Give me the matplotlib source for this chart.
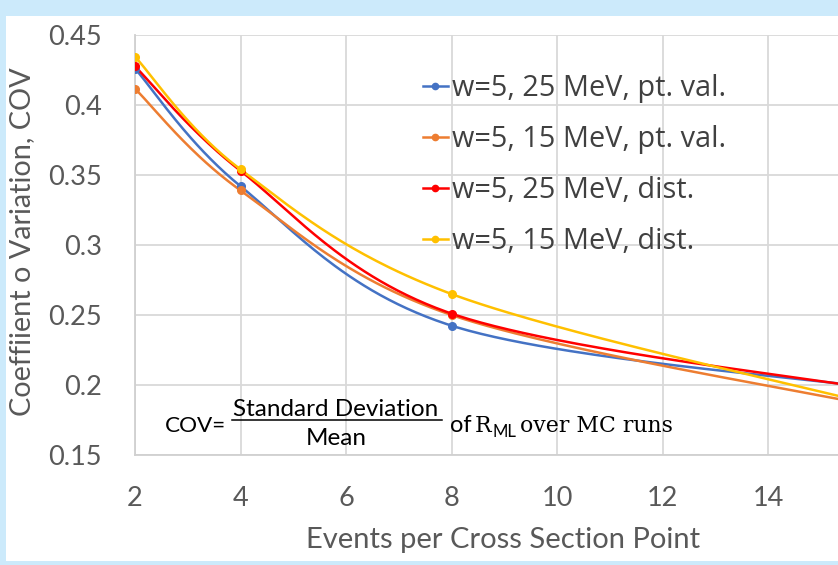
import numpy as np
import matplotlib
matplotlib.use("Agg")
import matplotlib.pyplot as plt
from matplotlib.patches import Rectangle
from matplotlib.lines import Line2D

# ---- data ----
events = [2, 4, 8, 16]
series_names = ["w=5, 25 MeV, pt. val.", "w=5, 15 MeV, pt. val.",
                "w=5, 25 MeV, dist.", "w=5, 15 MeV, dist."]
cov_25_pt = [0.426, 0.342, 0.2424, 0.198]
cov_15_pt = [0.4116, 0.339, 0.250, 0.185]
cov_25_dist = [0.4276, 0.353, 0.251, 0.197]
cov_15_dist = [0.4345, 0.354, 0.265, 0.186]
series_values = [cov_25_pt, cov_15_pt, cov_25_dist, cov_15_dist]
colors = ["#4472C4", "#ED7D31", "#FF0000", "#FFC000"]

x_ticks = [2, 4, 6, 8, 10, 12, 14]
y_ticks = [0.15, 0.2, 0.25, 0.3, 0.35, 0.4, 0.45]
y_tick_labels = ["0.15", "0.2", "0.25", "0.3", "0.35", "0.4", "0.45"]


def excel_smooth(xs, ys, n=60):
    P = np.column_stack([xs, ys]).astype(float)
    out = []
    t = np.linspace(0, 1, n)[:, None]
    for i in range(len(P) - 1):
        p0 = P[i - 1] if i > 0 else P[i]
        p1, p2 = P[i], P[i + 1]
        p3 = P[i + 2] if i + 2 < len(P) else P[i + 1]
        c1 = p1 + (p2 - p0) / 6.0
        c2 = p2 - (p3 - p1) / 6.0
        seg = ((1 - t) ** 3) * p1 + 3 * ((1 - t) ** 2) * t * c1 + 3 * (1 - t) * t ** 2 * c2 + t ** 3 * p2
        out.append(seg if i == 0 else seg[1:])
    arr = np.vstack(out)
    return arr[:, 0], arr[:, 1]


W, H = 838, 565
fig = plt.figure(figsize=(W / 100, H / 100), dpi=100)
fig.patch.set_facecolor("#CCEAFB")
fig.patches.append(Rectangle((6 / W, 4 / H), 1 - 6 / W, (561 - 16) / H,
                             transform=fig.transFigure, facecolor="white",
                             edgecolor="none", zorder=-5))

ax = fig.add_axes([135 / W, (H - 455) / H, 1 - 135 / W, (455 - 35) / H])
ax.set_zorder(1)
ax.set_facecolor("white")
ax.set_xlim(2, 2 + 703 / 52.75)
ax.set_ylim(0.15, 0.45)
ax.set_xticks(x_ticks)
ax.set_yticks(y_ticks)
ax.set_yticklabels(y_tick_labels)
ax.grid(True, color="#D9D9D9", linewidth=1.3)
ax.set_axisbelow(True)
for s in ["top", "right"]:
    ax.spines[s].set_visible(False)
for s in ["left", "bottom"]:
    ax.spines[s].set_color("#D0D0D0")
    ax.spines[s].set_linewidth(1.3)
ax.tick_params(length=0, labelcolor="#595959", labelsize=19.5)
ax.tick_params(axis="y", pad=24)
ax.tick_params(axis="x", pad=22)
for lab in ax.get_xticklabels() + ax.get_yticklabels():
    lab.set_family("Lato")

handles = []
for name, vals, c in zip(series_names, series_values, colors):
    sx, sy = excel_smooth(events, vals)
    ax.plot(sx, sy, color=c, linewidth=1.8, solid_capstyle="round", zorder=3)
    ax.plot(events, vals, "o", color=c, markersize=5.5, zorder=4, clip_on=True)
    handles.append(Line2D([0], [0], color=c, linewidth=1.8, marker="o", markersize=4.5))

leg = ax.legend(handles, series_names, loc="upper left",
                bbox_to_anchor=(423 / W, (H - 74) / H), bbox_transform=fig.transFigure,
                frameon=False, borderpad=0, borderaxespad=0, handlelength=0.85,
                handletextpad=0.17, labelspacing=0.76,
                prop={"family": "Open Sans", "size": 20.8})
for t in leg.get_texts():
    t.set_color("#404040")

ax.set_xlabel("Events per Cross Section Point", family="Lato", fontsize=21,
              color="#595959")
ax.xaxis.set_label_coords((503.5 - 135) / 703, -(540 - 455) / 420)
ax.xaxis.label.set_va("center")
fig.text(22 / W, (H - 242) / H, "Coeffiient o Variation, COV", family="Lato",
         fontsize=20.8, color="#595959", rotation=90, ha="center", va="center")

# ---- formula annotation ----
fs = 17.5
fig.text(165 / W, (H - 432) / H, "COV=", family="Lato", fontsize=16.2, color="black",
         ha="left", va="baseline", zorder=5)
fig.text(336 / W, (H - 416) / H, "Standard Deviation", family="Lato", fontsize=fs,
         color="black", ha="center", va="baseline", zorder=5)
fig.text(336 / W, (H - 445) / H, "Mean", family="Lato", fontsize=fs,
         color="black", ha="center", va="baseline", zorder=5)
fig.add_artist(Line2D([232 / W, 442 / W], [(H - 420) / H, (H - 420) / H],
                      transform=fig.transFigure, color="black", linewidth=1.1, zorder=5))
fig.text(450 / W, (H - 432) / H, "of", family="Lato", fontsize=17, color="black",
         ha="left", va="baseline", zorder=5)
fig.text(475 / W, (H - 432) / H, "R", family="DejaVu Serif", fontsize=15.8,
         color="black", ha="left", va="baseline", zorder=5)
fig.text(493 / W, (H - 437) / H, "ML", family="Lato", fontsize=12,
         color="black", ha="left", va="baseline", zorder=5)
fig.text(520 / W, (H - 432) / H, "over MC runs", family="DejaVu Serif", fontsize=15.8,
         color="black", ha="left", va="baseline", zorder=5)

fig.savefig("out.png", dpi=100, facecolor=fig.get_facecolor())
